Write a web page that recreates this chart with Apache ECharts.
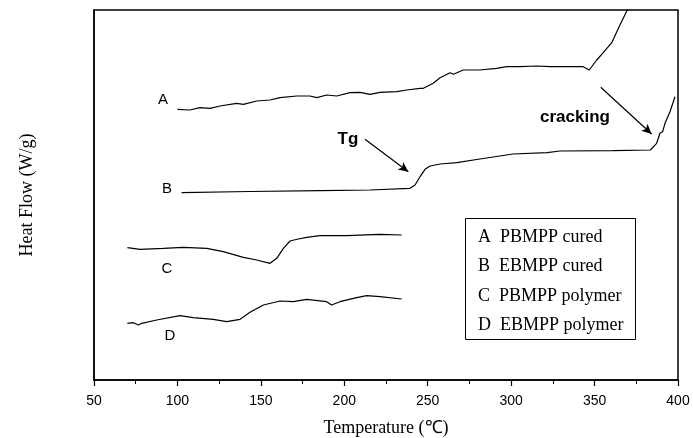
<!DOCTYPE html>
<html><head><meta charset="utf-8">
<script src="https://cdn.jsdelivr.net/npm/echarts@6/dist/echarts.min.js"></script>
<style>html,body{margin:0;padding:0;background:#fff}#c{width:693px;height:438px}</style>
</head><body><div id="c"></div>
<script>
// Temperature (°C) / heat flow (arbitrary, offset) pairs
const curveA = [[100,270.7],[107.5,270],[113.5,272.3],[119.5,271.7],[125.5,274],[135.5,276.7],[139.5,275.7],[147.5,279],[155.5,280],[161.5,282.3],[171.5,284],[179.4,284],[183.5,282.3],[189.5,285],[195.5,284],[203.4,287.3],[209.4,287.7],[215.4,285.7],[221.4,287.7],[231.4,288.3],[237.4,290],[245.4,291.7],[247.4,291.7],[253.3,296.7],[257.4,302.3],[263.4,307.3],[265.4,305.7],[271.3,310],[281.3,310],[291.3,311.7],[297.3,313.3],[305.3,313.3],[315.3,314],[323.3,313.3],[343.2,313.3],[346.8,310],[351.3,320],[355.2,327.3],[360.3,337.3],[365.2,355],[369.6,370],[371.5,380]];
const curveB = [[102.5,187.3],[143.5,188.5],[185.4,189.3],[215.4,190],[239.4,191.7],[242.4,195],[245.4,203.3],[248.4,210.7],[251.4,214],[257.4,216],[267.4,217.3],[281.3,221],[301.1,226],[321.5,227.3],[329.3,229],[361,229.3],[383.4,230],[387.2,236.7],[389.2,246.7],[390.8,248.3],[392.2,256.7],[395.2,268.3],[398.2,283.3]];
const curveC = [[70,132.3],[77.6,130.7],[91.5,131.7],[103.5,132.7],[117.5,131.7],[127.5,128.3],[139.5,122.7],[147.5,120],[155.5,116.7],[159.5,121.7],[163.5,131.7],[167.5,139],[172.4,141],[177.5,142.7],[185.4,144.3],[201.4,144.3],[221.4,145.7],[234.4,145]];
const curveD = [[70,56.7],[73.6,57.3],[76.6,55],[78.6,56.7],[87.6,60],[101.5,64.3],[109.5,62.3],[121.5,60.7],[129.5,58.3],[137.5,60.7],[143.5,67.7],[151.5,75],[161.5,79],[169.5,78.3],[177.4,80.7],[189.4,78.3],[192.4,75],[197.4,78.3],[207.4,82.3],[213.4,84.3],[221.4,83.3],[234.4,81]];
const legendLines = ['A  PBMPP cured','B  EBMPP cured','C  PBMPP polymer','D  EBMPP polymer'];
const curveLabels = ['A','B','C','D'];
const tgArrow = [[212.4,240.7],[238.4,208.3]];
const crackArrow = [[353.7,292.7],[384.2,246]];

const chart = echarts.init(document.getElementById('c'));
const lineStyle = {color:'#000', width:1.2};
function mkSeries(name, data, extra) {
  return Object.assign({name, type:'line', data, showSymbol:false, symbol:'none', lineStyle, clip:true, animation:false, z:3}, extra||{});
}
const arrowML = (pts) => ({
  silent:true, symbol:['none','arrow'], symbolSize:[7,10], label:{show:false},
  lineStyle:{color:'#000', width:1.2, type:'solid'},
  data:[[{coord:pts[0]},{coord:pts[1]}]]
});
const serif = '"Liberation Serif","Times New Roman",serif';
const sans = '"Liberation Sans",Arial,sans-serif';
const labelPos = [[163,100],[167,189],[167,269],[170,336]];
const graphics = curveLabels.map((t,i)=>({type:'text', x:labelPos[i][0], y:labelPos[i][1],
  style:{text:t, font:'15px '+sans, fill:'#000', textAlign:'center', textVerticalAlign:'middle'}}));
graphics.push({type:'text', x:348, y:139, style:{text:'Tg', font:'bold 17px '+sans, fill:'#000', textAlign:'center', textVerticalAlign:'middle'}});
graphics.push({type:'text', x:575, y:117, style:{text:'cracking', font:'bold 17px '+sans, fill:'#000', textAlign:'center', textVerticalAlign:'middle'}});
graphics.push({type:'rect', left:465, top:218, shape:{width:170, height:121}, style:{fill:'#fff', stroke:'#000', lineWidth:1}, z:10});
legendLines.forEach((t,i)=>graphics.push({type:'text', x:478, y:237+i*29.5, z:11,
  style:{text:t, font:'18px '+serif, fill:'#000', textVerticalAlign:'middle'}}));

chart.setOption({
  animation:false,
  grid:{left:94, right:15, top:10, bottom:58, show:true, borderColor:'#000', borderWidth:1.5, backgroundColor:'transparent', outerBoundsMode:'none', containLabel:false},
  xAxis:{type:'value', min:50, max:400, interval:50,
    name:'Temperature (\u2103)', nameLocation:'middle', nameGap:39,
    nameTextStyle:{fontFamily:serif, fontSize:18, color:'#000'},
    axisLine:{lineStyle:{color:'#000', width:1.5}},
    axisTick:{inside:false, length:6, lineStyle:{color:'#000', width:1.2}},
    minorTick:{show:true, splitNumber:2, length:4, lineStyle:{color:'#000', width:1}},
    axisLabel:{fontFamily:sans, fontSize:14, color:'#000', margin:14},
    splitLine:{show:false}},
  yAxis:{type:'value', min:0, max:370,
    name:'Heat Flow (W/g)', nameLocation:'middle', nameGap:58, nameRotate:90,
    nameTextStyle:{fontFamily:serif, fontSize:18, color:'#000'},
    axisLine:{show:true, lineStyle:{color:'#000', width:1.5}},
    axisTick:{show:false}, axisLabel:{show:false}, splitLine:{show:false}},
  series:[
    mkSeries('A', curveA, {markLine: arrowML(crackArrow)}),
    mkSeries('B', curveB, {markLine: arrowML(tgArrow)}),
    mkSeries('C', curveC),
    mkSeries('D', curveD)
  ],
  graphic: graphics
});
</script></body></html>
